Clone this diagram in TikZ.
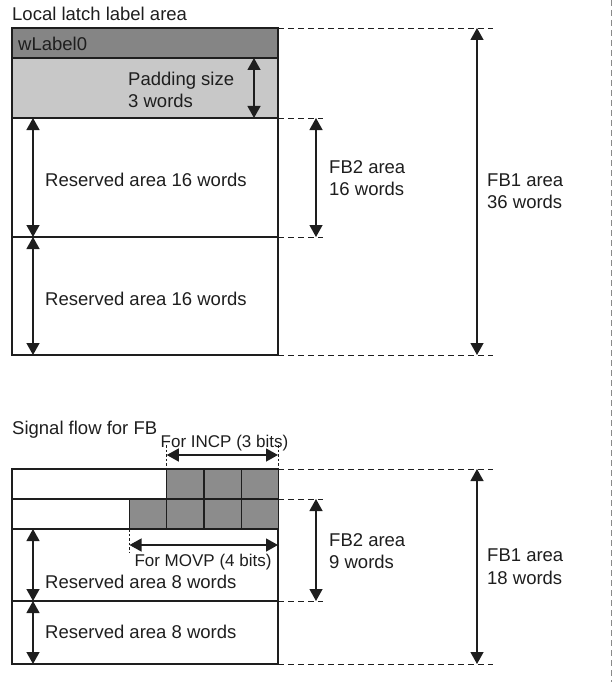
\documentclass[tikz,border=0pt]{standalone}
\usepackage{fontspec}
\setmainfont{Liberation Sans}
\usetikzlibrary{arrows.meta}
\definecolor{ink}{HTML}{1E1E1E}
\definecolor{darkfill}{HTML}{858585}
\definecolor{lightfill}{HTML}{C8C8C8}
\definecolor{cellfill}{HTML}{8C8C8C}
\definecolor{edgegray}{HTML}{8A8A8A}
\begin{document}
\begin{tikzpicture}[x=1pt,y=-1pt,
  box/.style={draw=ink, line width=1.2pt},
  cellbox/.style={draw=ink, line width=1.2pt, fill=cellfill},
  dim/.style={draw=ink, line width=1.3pt, {Triangle[width=13pt,length=12pt]}-{Triangle[width=13pt,length=12pt]}},
  guide/.style={draw=ink, line width=0.9pt, dash pattern=on 6pt off 4pt},
  tickline/.style={draw=ink, line width=0.8pt, dash pattern=on 2.5pt off 2pt},
  lbl/.style={font=\fontsize{18.5}{22.5}\selectfont, text=ink, inner sep=0pt, align=left},
  small/.style={font=\fontsize{17}{20}\selectfont, text=ink, inner sep=0pt}]
\useasboundingbox (0,0) rectangle (612,682);

% right edge
\coordinate (et) at (611,0);
\coordinate (eb) at (611,682);
\draw[edgegray, line width=1pt, dash pattern=on 6pt off 4pt] (et) -- (eb);

% ---------------- top block ----------------
\node[lbl, anchor=base west] (title1) at (12,21) {Local latch label area};
\draw[box, fill=darkfill] (12,28) rectangle (278,58);
\draw[box, fill=lightfill] (12,58) rectangle (278,118);
\draw[box] (12,118) rectangle (278,237);
\draw[box] (12,237) rectangle (278,355);

\node[lbl, anchor=base west] (wlabel) at (18,51) {wLabel0};
\node[lbl, anchor=north west] (pad) at (128,71.5) {Padding size\\3 words};
\node[lbl, anchor=base west] (res1) at (45,186) {Reserved area 16 words};
\node[lbl, anchor=base west] (res2) at (45,305) {Reserved area 16 words};

\coordinate (pa) at (254,58);  \coordinate (pb) at (254,118);
\draw[dim] (pa) -- (pb);
\coordinate (r1a) at (33,118); \coordinate (r1b) at (33,237);
\coordinate (r2a) at (33,237); \coordinate (r2b) at (33,355);
\draw[dim] (r1a) -- (r1b);
\draw[dim] (r2a) -- (r2b);

\coordinate (g1a) at (278,28);  \coordinate (g1b) at (493,28);
\coordinate (g2a) at (278,118); \coordinate (g2b) at (323,118);
\coordinate (g3a) at (278,237); \coordinate (g3b) at (323,237);
\coordinate (g4a) at (278,355); \coordinate (g4b) at (493,355);
\draw[guide] (g1a) -- (g1b);
\draw[guide] (g2a) -- (g2b);
\draw[guide] (g3a) -- (g3b);
\draw[guide] (g4a) -- (g4b);

\coordinate (f2a) at (316,118); \coordinate (f2b) at (316,237);
\draw[dim] (f2a) -- (f2b);
\coordinate (f1a) at (477,28); \coordinate (f1b) at (477,355);
\draw[dim] (f1a) -- (f1b);
\node[lbl, anchor=north west] (fb2t) at (329,160) {FB2 area\\16 words};
\node[lbl, anchor=north west] (fb1t) at (487,173.5) {FB1 area\\36 words};

% ---------------- bottom block ----------------
\node[lbl, anchor=base west] (title2) at (12,434.5) {Signal flow for FB};
\draw[box] (12,469) rectangle (278,499);
\draw[box] (12,499) rectangle (278,529);
\draw[box] (12,529) rectangle (278,601);
\draw[box] (12,601) rectangle (278,664);

\foreach \x in {166.75,204,241.25}{
  \draw[cellbox] (\x,469) rectangle ++(37.25,30);
}
\foreach \x in {129.5,166.75,204,241.25}{
  \draw[cellbox] (\x,499) rectangle ++(37.25,30);
}

% INCP
\coordinate (ita) at (166.75,445); \coordinate (itb) at (166.75,469);
\coordinate (jta) at (278,445);    \coordinate (jtb) at (278,469);
\draw[tickline] (ita) -- (itb);
\draw[tickline] (jta) -- (jtb);
\coordinate (ia) at (166.75,455); \coordinate (ib) at (278,455);
\draw[dim] (ia) -- (ib);
\node[small, anchor=base] (incp) at (224.5,447) {For INCP (3 bits)};

% MOVP
\coordinate (mta) at (129.5,529); \coordinate (mtb) at (129.5,552);
\draw[tickline] (mta) -- (mtb);
\coordinate (ma) at (129.5,545); \coordinate (mb) at (278,545);
\draw[dim] (ma) -- (mb);
\node[small, anchor=base] (movp) at (203,566.5) {For MOVP (4 bits)};

\node[lbl, anchor=base west] (res3) at (45,588.3) {Reserved area 8 words};
\node[lbl, anchor=base west] (res4) at (45,638.3) {Reserved area 8 words};

\coordinate (r3a) at (33,529); \coordinate (r3b) at (33,601);
\coordinate (r4a) at (33,601); \coordinate (r4b) at (33,664);
\draw[dim] (r3a) -- (r3b);
\draw[dim] (r4a) -- (r4b);

\coordinate (h1a) at (278,469); \coordinate (h1b) at (493,469);
\coordinate (h2a) at (278,499); \coordinate (h2b) at (323,499);
\coordinate (h3a) at (278,601); \coordinate (h3b) at (323,601);
\coordinate (h4a) at (278,664); \coordinate (h4b) at (493,664);
\draw[guide] (h1a) -- (h1b);
\draw[guide] (h2a) -- (h2b);
\draw[guide] (h3a) -- (h3b);
\draw[guide] (h4a) -- (h4b);

\coordinate (k2a) at (316,499); \coordinate (k2b) at (316,601);
\draw[dim] (k2a) -- (k2b);
\coordinate (k1a) at (477,469); \coordinate (k1b) at (477,664);
\draw[dim] (k1a) -- (k1b);
\node[lbl, anchor=north west] (fb2b) at (329,533.3) {FB2 area\\9 words};
\node[lbl, anchor=north west] (fb1b) at (487,549) {FB1 area\\18 words};
\end{tikzpicture}
\end{document}
